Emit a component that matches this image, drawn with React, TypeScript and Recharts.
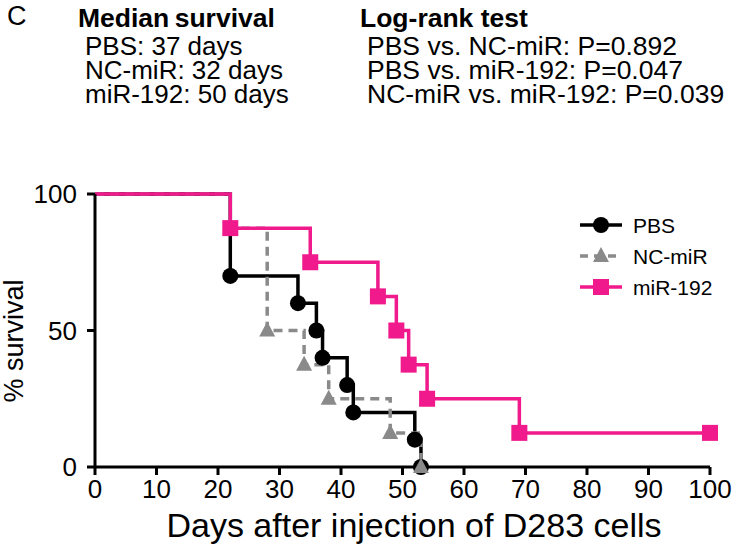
import React from 'react'
import { LineChart, Line, XAxis, YAxis, Legend } from 'recharts'

// Kaplan-Meier steps (day, % surviving)
const pbsDays = [0, 22, 33, 36, 37, 41, 42, 52, 53]
const pbsSurvival = [100, 70, 60, 50, 40, 30, 20, 10, 0]
const ncDays = [0, 22, 28, 34, 38, 48, 53]
const ncSurvival = [100, 87.5, 50, 37.5, 25, 12.5, 0]
const mirDays = [0, 22, 35, 46, 49, 51, 54, 69, 100]
const mirSurvival = [100, 87.5, 75, 62.5, 50, 37.5, 25, 12.5, 12.5]

const xTicks = [0, 10, 20, 30, 40, 50, 60, 70, 80, 90, 100]
const yTicks = [0, 50, 100]

const medianLines = ['PBS: 37 days', 'NC-miR: 32 days', 'miR-192: 50 days']
const logRankLines = ['PBS vs. NC-miR: P=0.892', 'PBS vs. miR-192: P=0.047', 'NC-miR vs. miR-192: P=0.039']

const FONT = '"Liberation Sans", Arial, sans-serif'
const PINK = '#f01a8c'
const GREY = '#8a8a8a'

const series = [
  { name: 'PBS', days: pbsDays, surv: pbsSurvival, color: '#000', shape: 'circle', dash: undefined },
  { name: 'NC-miR', days: ncDays, surv: ncSurvival, color: GREY, shape: 'triangle', dash: '9 6' },
  { name: 'miR-192', days: mirDays, surv: mirSurvival, color: PINK, shape: 'square', dash: undefined },
]

const toRows = (days: number[], surv: number[]) => days.map((d, i) => ({ day: d, surv: surv[i] }))

function Marker({ shape, cx, cy, color }: { shape: string; cx: number; cy: number; color: string }) {
  if (shape === 'circle') return <circle cx={cx} cy={cy} r={8} fill={color} />
  if (shape === 'square') return <rect x={cx - 8} y={cy - 8} width={16} height={16} fill={color} />
  return <polygon points={`${cx},${cy - 9} ${cx + 8},${cy + 6} ${cx - 8},${cy + 6}`} fill={color} />
}

function LegendBox() {
  return (
    <svg width={150} height={100} style={{ display: 'block' }}>
      {series.map((s, i) => {
        const y = 15 + i * 31
        return (
          <g key={s.name}>
            <line x1={2} x2={44} y1={y} y2={y} stroke={s.color} strokeWidth={3.5} strokeDasharray={s.dash ? '8 6' : undefined} />
            <Marker shape={s.shape} cx={23} cy={y} color={s.color} />
            <text x={55} y={y + 7.5} fontSize={21} fontFamily={FONT} fill="#000">{s.name}</text>
          </g>
        )
      })}
    </svg>
  )
}

export default function App() {
  return (
    <div style={{ position: 'absolute', left: 0, top: 0, width: 732, height: 554, background: '#fff' }}>
      <LineChart width={732} height={554} margin={{ top: 194, right: 22, bottom: 0, left: 35 }}>
        <XAxis
          type="number"
          dataKey="day"
          domain={[0, 100]}
          ticks={xTicks}
          height={87}
          tickSize={8}
          tickMargin={5}
          axisLine={{ stroke: '#000', strokeWidth: 3 }}
          tickLine={{ stroke: '#000', strokeWidth: 3 }}
          tick={{ fill: '#000', fontSize: 26, fontFamily: FONT }}
        />
        <YAxis
          type="number"
          domain={[0, 100]}
          ticks={yTicks}
          width={60}
          tickSize={8}
          tickMargin={10}
          axisLine={{ stroke: '#000', strokeWidth: 3 }}
          tickLine={{ stroke: '#000', strokeWidth: 3 }}
          tick={{ fill: '#000', fontSize: 26, fontFamily: FONT }}
        />
        <Legend
          layout="vertical"
          align="center"
          verticalAlign="middle"
          wrapperStyle={{ position: 'absolute', left: 578, top: 210, width: 150 }}
          content={() => <LegendBox />}
        />
        {series.map((s) => (
          <Line
            key={s.name}
            name={s.name}
            data={toRows(s.days, s.surv)}
            dataKey="surv"
            type="stepAfter"
            stroke={s.color}
            strokeWidth={3.5}
            strokeDasharray={s.dash}
            isAnimationActive={false}
            dot={(p: any) =>
              p.index === 0 ? (
                <g key={`d-${s.name}-${p.index}`} />
              ) : (
                <g key={`d-${s.name}-${p.index}`}>
                  <Marker shape={s.shape} cx={p.cx} cy={p.cy} color={s.color} />
                </g>
              )
            }
            activeDot={false}
          />
        ))}
      </LineChart>
      <svg width={732} height={554} style={{ position: 'absolute', left: 0, top: 0, pointerEvents: 'none' }}>
        <g fontFamily={FONT} fill="#000">
          <text x={7} y={25} fontSize={27}>C</text>
          <text x={78} y={27} fontSize={26.5} fontWeight="bold" wordSpacing={-2}>Median survival</text>
          {medianLines.map((t, i) => (
            <text key={t} x={85} y={55 + i * 24} fontSize={26}>{t}</text>
          ))}
          <text x={360} y={27} fontSize={26.5} fontWeight="bold">Log-rank test</text>
          {logRankLines.map((t, i) => (
            <text key={t} x={367} y={55 + i * 24} fontSize={26.5}>{t}</text>
          ))}
          <text x={23} y={341} fontSize={27} textAnchor="middle" transform="rotate(-90 23 341)">% survival</text>
          <text x={414} y={537} fontSize={34} textAnchor="middle">Days after injection of D283 cells</text>
        </g>
      </svg>
    </div>
  )
}
